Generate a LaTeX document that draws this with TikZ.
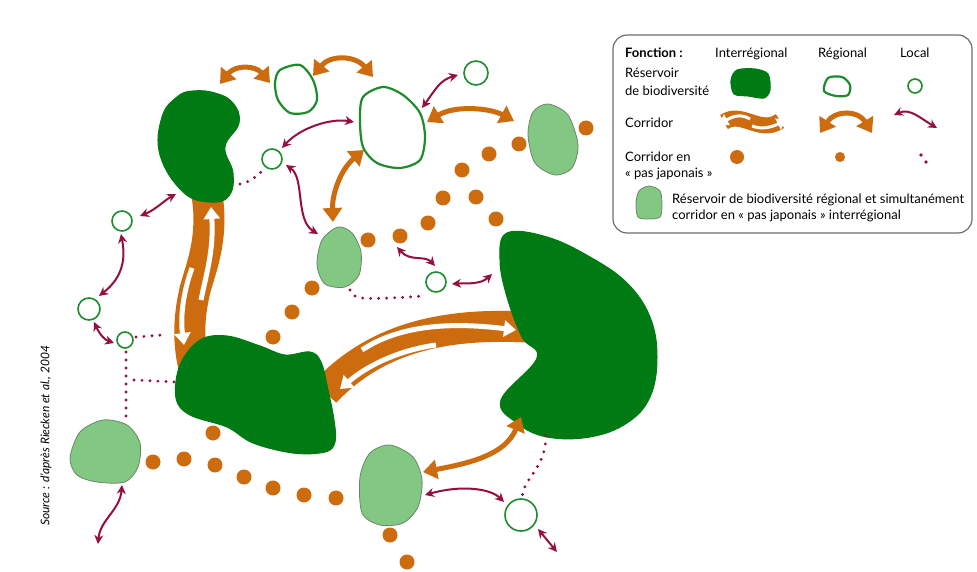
\documentclass[tikz,border=0pt]{standalone}
\usepackage{fontspec}
\setmainfont{Lato}
\usetikzlibrary{arrows.meta}
\definecolor{dkgreen}{RGB}{0,122,18}
\definecolor{ltgreen}{RGB}{130,200,130}
\definecolor{ltgreenb}{RGB}{105,135,105}
\definecolor{ringgreen}{RGB}{30,140,45}
\definecolor{orng}{RGB}{205,108,15}
\definecolor{mrn}{RGB}{150,15,65}
\definecolor{boxgray}{RGB}{110,110,110}
\begin{document}
\begin{tikzpicture}[x=1pt,y=-1pt,
  res/.style={fill=dkgreen,draw=dkgreen,line width=1},
  lres/.style={fill=ltgreen,draw=ltgreenb,line width=0.8},
  rring/.style={draw=ringgreen,line width=2.2,fill=white},
  lring/.style={draw=ringgreen,line width=1.6,fill=white},
  lcor/.style={draw=mrn,line width=2,{Stealth[length=9pt,width=9pt]}-{Stealth[length=9pt,width=9pt]}},
  rcor/.style={draw=orng,line width=5,{Triangle[length=14pt,width=19pt]}-{Triangle[length=14pt,width=19pt]}},
  band/.style={draw=orng,line width=31},
  wa/.style={draw=white,line width=5,-{Triangle[length=12pt,width=16pt]}},
  odot/.style={fill=orng},
  ldots/.style={draw=mrn,line width=3.2,line cap=round,dash pattern=on 0pt off 8pt},
  lbl/.style={anchor=base west,inner sep=0,font=\fontsize{13}{15}\selectfont}
]
\useasboundingbox (0,0) rectangle (977,572);
\fill[white] (0,0) rectangle (977,572);

% interregional corridors (bands)
\draw[band] (207,195) .. controls (214,240) and (200,270) .. (195,290) .. controls (188,320) and (188,345) .. (195,372);
\draw[wa] (201,300) .. controls (206,275) and (214,250) .. (211,207);
\draw[wa] (192,268) .. controls (184,290) and (180,315) .. (184,345);
\draw[band] (325,392) .. controls (370,345) and (430,322) .. (527,327);
\draw[wa] (362,350) .. controls (400,325) and (450,322) .. (516,330);
\draw[wa] (436,345) .. controls (400,350) and (368,365) .. (340,389);

% interregional reservoirs
\draw[res] plot[smooth cycle,tension=0.7] coordinates {(177,97) (193,91) (215,93) (233,103) (239,123) (225,147) (233,173) (229,196) (210,202) (183,192) (160,155) (162,117)};
\draw[res] plot[smooth cycle,tension=0.6] coordinates {(200,340) (227,336) (260,346) (285,355) (310,352) (321,362) (328,390) (334,420) (335,442) (325,452) (293,453) (253,443) (227,427) (190,415) (176,398) (180,365)};
\draw[res] plot[smooth cycle,tension=0.65] coordinates {(507,233) (547,237) (590,257) (627,283) (650,317) (657,357) (650,397) (627,423) (590,437) (547,437) (517,423) (501,400) (537,358) (522,337) (507,297) (500,260)};

% regional reservoirs + interregional stepping stones
\draw[lres] plot[smooth cycle] coordinates {(548,104) (568,115) (578,145) (572,168) (555,175) (535,163) (528,135) (533,112)};
\draw[lres] plot[smooth cycle] coordinates {(338,227) (352,233) (361,252) (359,275) (345,287) (325,284) (317,265) (322,240)};
\draw[lres] plot[smooth cycle] coordinates {(80,432) (103,420) (127,425) (140,443) (138,467) (125,482) (97,482) (77,475) (70,458)};
\draw[lres] plot[smooth cycle] coordinates {(370,453) (390,445) (413,457) (422,480) (418,507) (403,523) (380,525) (362,513) (360,477)};

% regional reservoirs (rings)
\draw[rring] plot[smooth cycle] coordinates {(280,70) (300,65) (313,80) (317,100) (308,112) (290,113) (278,100) (275,83)};
\draw[rring] plot[smooth cycle] coordinates {(363,97) (383,87) (403,95) (420,113) (425,137) (420,160) (400,168) (377,163) (363,147) (360,120)};

% local reservoirs
\draw[lring] (476,73) circle[radius=12];
\draw[lring] (272,159) circle[radius=10];
\draw[lring] (122,221) circle[radius=10];
\draw[lring] (89,309) circle[radius=11];
\draw[lring] (125,340) circle[radius=8];
\draw[lring] (436,282) circle[radius=10];
\draw[lring] (521,515) circle[radius=16];

% local stepping stones
\draw[ldots] (240,184) .. controls (250,182) and (256,177) .. (263,170);
\draw[ldots] (136,337) -- (162,335);
\draw[ldots] (126,352) -- (126,422);
\draw[ldots] (134,380) -- (176,382);
\draw[ldots] (350,290) .. controls (354,300) and (360,300) .. (424,296);
\draw[ldots] (546,436) .. controls (545,470) and (525,475) .. (522,497);

% interregional stepping stones
\foreach \p in {(586,128),(519,144),(489,154),(462,170),(443,198),(428,223),(400,236),(368,240),(476,197),(496,219),(312,288),(292,312),(273,337),(213,433),(153,462),(184,459),(215,465),(244,477),(273,488),(304,495),(336,498),(390,535),(407,562)}
  \fill[odot] \p circle[radius=7.5];

% regional corridors
\draw[rcor] (220,84) .. controls (235,65) and (255,65) .. (270,83);
\draw[rcor] (313,76) .. controls (330,55) and (355,55) .. (373,77);
\draw[rcor] (427,122) .. controls (455,105) and (490,108) .. (514,121);
\draw[rcor] (364,150) .. controls (340,170) and (332,195) .. (333,222);
\draw[rcor] (423,472) .. controls (470,463) and (505,455) .. (521,417);

% local corridors
\draw[lcor] (140,216) .. controls (155,210) and (165,200) .. (176,194);
\draw[lcor] (121,234) .. controls (126,260) and (122,278) .. (99,296);
\draw[lcor] (94,322) .. controls (100,335) and (105,340) .. (114,343);
\draw[lcor] (282,148) .. controls (300,128) and (330,118) .. (354,122);
\draw[lcor] (286,165) .. controls (305,178) and (295,220) .. (318,234);
\draw[lcor] (422,108) .. controls (435,90) and (440,80) .. (458,75);
\draw[lcor] (397,247) .. controls (410,262) and (425,255) .. (435,266);
\draw[lcor] (452,284) .. controls (465,283) and (480,285) .. (492,274);
\draw[lcor] (122,485) .. controls (120,510) and (100,520) .. (98,544);
\draw[lcor] (425,495) .. controls (460,485) and (490,488) .. (504,502);
\draw[lcor] (538,529) -- (557,552);

% source
\node[rotate=90,inner sep=0,font=\itshape\fontsize{12}{14}\selectfont] (src) at (46,436) {Source : d'après Riecken et al., 2004};

% legend
\draw[boxgray,line width=1.2,rounded corners=14,fill=white] (613,35) rectangle (972,233);
\node[lbl,font=\bfseries\fontsize{13}{15}\selectfont] (lf) at (625,58) {Fonction :};
\node[lbl] (li) at (715,58) {Interrégional};
\node[lbl] (lr) at (818,58) {Régional};
\node[lbl] (ll) at (900,58) {Local};
\node[lbl] (lres1) at (625,78) {Réservoir};
\node[lbl] (lres2) at (625,96) {de biodiversité};
\node[lbl] (lcorr) at (625,128) {Corridor};
\node[lbl] (lpj1) at (625,162) {Corridor en};
\node[lbl] (lpj2) at (625,178) {« pas japonais »};
\node[lbl] (lmix1) at (672,204) {Réservoir de biodiversité régional et simultanément};
\node[lbl] (lmix2) at (672,220) {corridor en « pas japonais » interrégional};

\draw[res] plot[smooth cycle] coordinates {(737,70) (755,69) (768,74) (770,90) (764,98) (748,96) (734,94) (731,80)};
\draw[rring] plot[smooth cycle] coordinates {(828,78) (842,77) (850,85) (848,95) (836,96) (824,91)};
\draw[lring] (915,86) circle[radius=7];

\draw[orng,line width=16] (724,122) .. controls (742,110) and (760,135) .. (780,121);
\draw[draw=white,line width=3,-{Triangle[length=9pt,width=12pt]}] (750,119) .. controls (740,113) and (732,117) .. (719,124);
\draw[draw=white,line width=3,-{Triangle[length=9pt,width=12pt]}] (752,126) .. controls (762,130) and (772,127) .. (786,120);
\draw[rcor] (820,133) .. controls (835,110) and (858,110) .. (872,133);
\draw[lcor] (894,115) .. controls (910,108) and (920,118) .. (937,128);

\fill[odot] (737,157) circle[radius=7];
\fill[odot] (840,157) circle[radius=5];
\fill[mrn] (921,155) circle[radius=1.8];
\fill[mrn] (926,162) circle[radius=1.8];

\draw[lres] plot[smooth cycle] coordinates {(649,186) (660,191) (662,205) (660,217) (649,219) (638,217) (636,203) (639,191)};
\end{tikzpicture}
\end{document}
